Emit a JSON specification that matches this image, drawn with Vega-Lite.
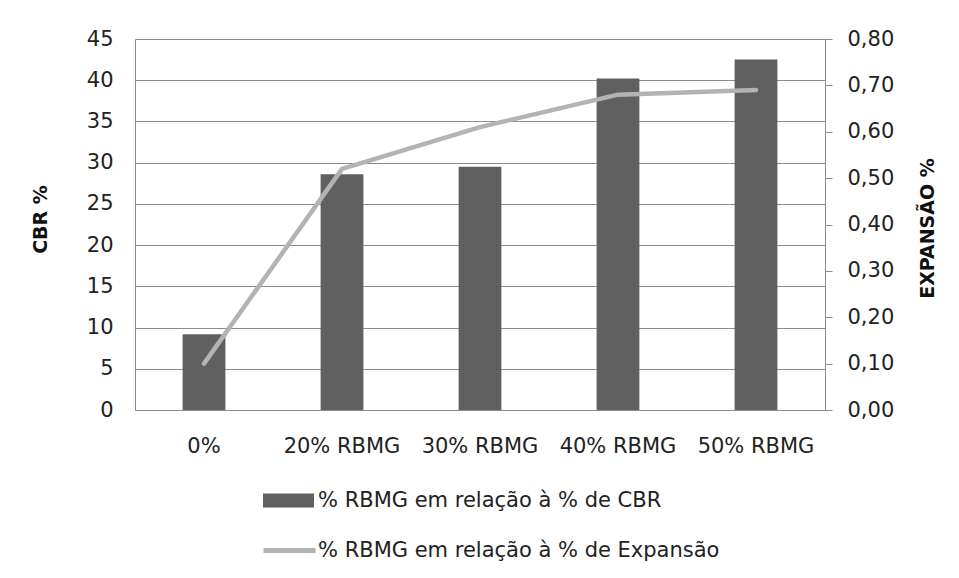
{
  "$schema": "https://vega.github.io/schema/vega-lite/v6.json",
  "autosize": {"type": "none"},
  "padding": {"left": 135, "top": 39, "right": 134, "bottom": 168},
  "width": 690,
  "height": 371,
  "background": "white",
  "data": {
    "values": [
      {"mistura": "0%", "cbr": 9.2, "expansao": 0.10},
      {"mistura": "20% RBMG", "cbr": 28.6, "expansao": 0.52},
      {"mistura": "30% RBMG", "cbr": 29.5, "expansao": 0.61},
      {"mistura": "40% RBMG", "cbr": 40.2, "expansao": 0.68},
      {"mistura": "50% RBMG", "cbr": 42.5, "expansao": 0.69}
    ]
  },
  "encoding": {
    "x": {
      "field": "mistura",
      "type": "nominal",
      "sort": null,
      "scale": {"paddingInner": 0.69, "paddingOuter": 0.345},
      "axis": {
        "title": null,
        "labelAngle": 0,
        "ticks": false,
        "labelPadding": 25,
        "domainColor": "#8c8c8c",
        "domainWidth": 1
      }
    }
  },
  "layer": [
    {
      "mark": {"type": "bar", "strokeWidth": 0},
      "encoding": {
        "y": {
          "field": "cbr",
          "type": "quantitative",
          "scale": {"domain": [0, 45], "nice": false, "zero": true},
          "axis": {
            "title": "CBR %",
            "values": [0, 5, 10, 15, 20, 25, 30, 35, 40, 45],
            "ticks": false,
            "labelPadding": 22,
            "grid": true,
            "gridColor": "#8c8c8c",
            "gridWidth": 1,
            "domainColor": "#8c8c8c",
            "titleFont": "DejaVu Sans",
            "titleFontWeight": "bold",
            "titleFontSize": 19,
            "titleColor": "#111111",
            "titleAngle": -90,
            "titleBaseline": "middle",
            "titleAlign": "center",
            "titleX": -95,
            "titleY": 180
          }
        },
        "fill": {
          "datum": "% RBMG em relação à % de CBR",
          "type": "nominal",
          "scale": {"range": ["#606060"]},
          "legend": {
            "title": null,
            "orient": "none",
            "legendX": 128,
            "legendY": 436,
            "padding": 0,
            "symbolType": "M-1,-0.275H1V0.275H-1Z",
            "symbolSize": 2601,
            "symbolStrokeWidth": 0,
            "labelOffset": 4,
            "labelLimit": 600,
            "labelFont": "DejaVu Sans",
            "labelFontSize": 21,
            "labelColor": "#222222"
          }
        }
      }
    },
    {
      "mark": {"type": "line", "strokeWidth": 4.5, "strokeCap": "round", "strokeJoin": "round"},
      "encoding": {
        "y": {
          "field": "expansao",
          "type": "quantitative",
          "scale": {"domain": [0, 0.8], "nice": false, "zero": true},
          "axis": {
            "title": "EXPANSÃO %",
            "orient": "right",
            "values": [0, 0.1, 0.2, 0.3, 0.4, 0.5, 0.6, 0.7, 0.8],
            "labelExpr": "replace(format(datum.value, '.2f'), '.', ',')",
            "grid": false,
            "ticks": true,
            "tickSize": 7,
            "tickColor": "#8c8c8c",
            "labelPadding": 15,
            "domainColor": "#8c8c8c",
            "titleFont": "DejaVu Sans",
            "titleFontWeight": "bold",
            "titleFontSize": 19,
            "titleColor": "#111111",
            "titleAngle": -90,
            "titleBaseline": "middle",
            "titleAlign": "center",
            "titleX": 102,
            "titleY": 189
          }
        },
        "stroke": {
          "datum": "% RBMG em relação à % de Expansão",
          "type": "nominal",
          "scale": {"range": ["#b3b3b3"]},
          "legend": {
            "title": null,
            "orient": "none",
            "legendX": 126,
            "legendY": 483,
            "padding": 0,
            "symbolType": "stroke",
            "symbolSize": 2704,
            "symbolStrokeWidth": 5,
            "labelOffset": 0,
            "labelLimit": 600,
            "labelFont": "DejaVu Sans",
            "labelFontSize": 21,
            "labelColor": "#222222"
          }
        }
      }
    }
  ],
  "resolve": {"scale": {"y": "independent"}, "axis": {"y": "independent"}},
  "config": {
    "view": {"stroke": null},
    "axis": {
      "labelFont": "DejaVu Sans",
      "labelFontSize": 21,
      "labelColor": "#222222",
      "domainWidth": 1
    }
  }
}
